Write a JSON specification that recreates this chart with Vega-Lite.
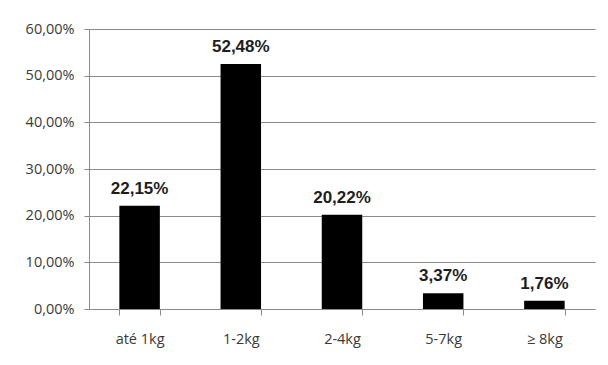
{
  "$schema": "https://vega.github.io/schema/vega-lite/v6.json",
  "width": 506,
  "height": 280,
  "autosize": {"type": "none"},
  "padding": {"left": 89, "top": 29, "right": 13, "bottom": 56},
  "background": "white",
  "config": {
    "locale": {"number": {"decimal": ",", "thousands": ".", "grouping": [3], "currency": ["", " €"]}},
    "view": {"stroke": null},
    "axis": {
      "labelFont": "Open Sans",
      "labelFontSize": 14.5,
      "labelColor": "#3a3a3a",
      "domainColor": "#8a8a8a",
      "tickColor": "#8a8a8a",
      "gridColor": "#8a8a8a",
      "domainWidth": 1,
      "tickWidth": 1,
      "gridWidth": 1,
      "title": null
    }
  },
  "data": {
    "values": [
      {"categoria": "até 1kg", "valor": 0.2215},
      {"categoria": "1-2kg", "valor": 0.5248},
      {"categoria": "2-4kg", "valor": 0.2022},
      {"categoria": "5-7kg", "valor": 0.0337},
      {"categoria": "≥ 8kg", "valor": 0.0176}
    ]
  },
  "encoding": {
    "x": {
      "field": "categoria",
      "type": "nominal",
      "sort": null,
      "scale": {"paddingInner": 0.6, "paddingOuter": 0.3},
      "axis": {
        "labelAngle": 0,
        "tickBand": "extent",
        "tickSize": 6,
        "labelPadding": 17,
        "grid": false
      }
    },
    "y": {
      "field": "valor",
      "type": "quantitative",
      "scale": {"domain": [0, 0.6], "nice": false},
      "axis": {
        "values": [0, 0.1, 0.2, 0.3, 0.4, 0.5, 0.6],
        "format": ".2%",
        "tickSize": 5,
        "labelPadding": 10,
        "grid": true
      }
    }
  },
  "layer": [
    {"mark": {"type": "bar", "color": "black"}},
    {
      "mark": {
        "type": "text",
        "baseline": "alphabetic",
        "dy": -12,
        "font": "Liberation Sans",
        "fontWeight": "bold",
        "fontSize": 17,
        "color": "#1e1e1e"
      },
      "encoding": {
        "text": {"field": "valor", "type": "quantitative", "format": ".2%"}
      }
    }
  ]
}
